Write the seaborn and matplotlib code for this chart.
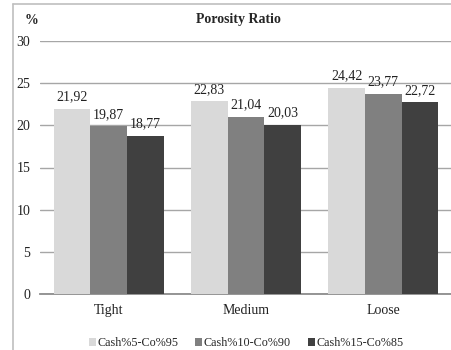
import pandas as pd
import matplotlib.pyplot as plt
import seaborn as sns
from matplotlib.lines import Line2D

categories = ['Tight', 'Medium', 'Loose']
series = ['Cash%5-Co%95', 'Cash%10-Co%90', 'Cash%15-Co%85']
cash5 = [21.92, 22.83, 24.42]
cash10 = [19.87, 21.04, 23.77]
cash15 = [18.77, 20.03, 22.72]
colors = ['#d9d9d9', '#808080', '#404040']

# long format for seaborn
df = pd.DataFrame({
    'category': categories * 3,
    'series': [series[0]] * 3 + [series[1]] * 3 + [series[2]] * 3,
    'value': cash5 + cash10 + cash15,
})

sns.set_style('white')
plt.rcParams['font.family'] = ['Liberation Serif', 'DejaVu Serif']

fig = plt.figure(figsize=(4.52, 3.5), dpi=100)
ax = fig.add_axes([40 / 452, 1 - 294 / 350, 1 - 40 / 452, (294 - 41) / 350])

sns.barplot(data=df, x='category', y='value', hue='series', order=categories,
            hue_order=series, palette=colors, width=0.8, saturation=1,
            ax=ax, zorder=3, edgecolor='none', linewidth=0)

# value labels with comma decimals
for cont in ax.containers:
    labels = [f'{b.get_height():.2f}'.replace('.', ',') for b in cont]
    ax.bar_label(cont, labels=labels, padding=4, fontsize=10, color='#222222')

ax.set_ylim(0, 30)
ax.set_yticks(range(0, 31, 5))
ax.set_xlim(-0.5, 2.5)
ax.yaxis.grid(True, color='#a6a6a6', linewidth=1, zorder=0)
ax.set_axisbelow(True)
for s in ['top', 'right', 'left']:
    ax.spines[s].set_visible(False)
ax.spines['bottom'].set_color('#8c8c8c')
ax.spines['bottom'].set_linewidth(1.3)
ax.tick_params(axis='y', length=0, pad=7, labelsize=10, labelcolor='#222222')
ax.tick_params(axis='x', length=0, pad=7, labelsize=10, labelcolor='#222222')
ax.set_xlabel('')
ax.set_ylabel('')

ax.legend(loc='center', bbox_to_anchor=(246 / 452, 1 - 343 / 350),
          bbox_transform=fig.transFigure, ncol=3, frameon=False,
          fontsize=8.7, handlelength=0.6, handleheight=0.6, handletextpad=0.1,
          columnspacing=1.4)

fig.text(238 / 452, 1 - 20 / 350, 'Porosity Ratio', ha='center', va='center',
         fontsize=10, fontweight='bold')
fig.text(32 / 452, 1 - 20 / 350, '%', ha='center', va='center',
         fontsize=10, fontweight='bold')

# outer frame (partially cropped)
fig.add_artist(Line2D([13 / 452, 1], [1 - 4 / 350, 1 - 4 / 350], color='#bfbfbf', lw=1.2))
fig.add_artist(Line2D([13 / 452, 13 / 452], [0, 1 - 4 / 350], color='#bfbfbf', lw=1.2))

fig.savefig('out.png', dpi=100)
